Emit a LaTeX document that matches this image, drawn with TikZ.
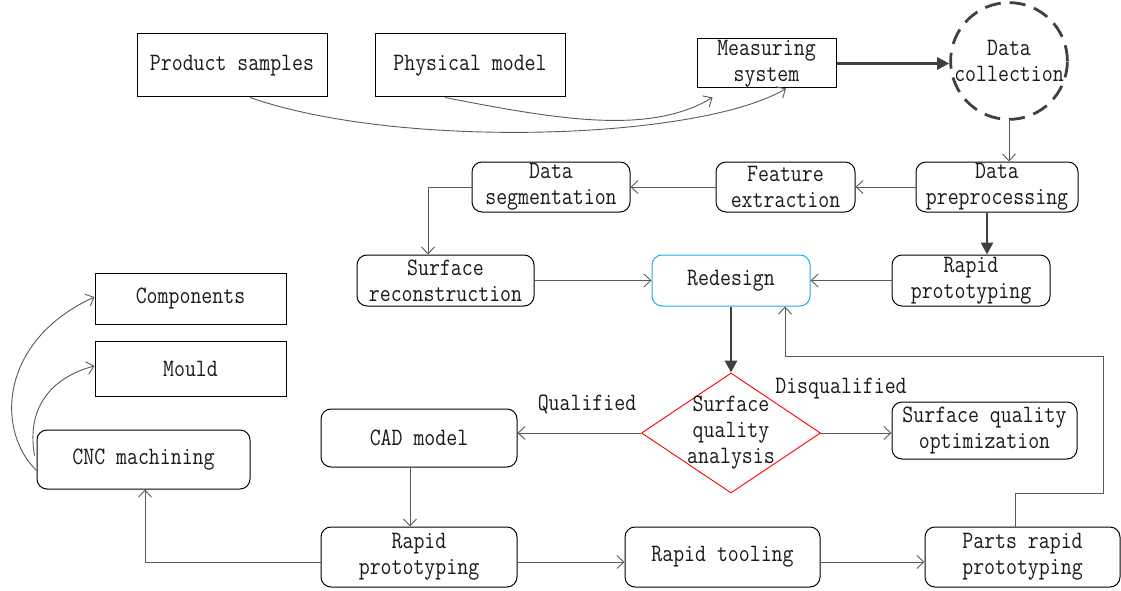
\documentclass[tikz,border=0pt]{standalone}
\usepackage{fontspec}
\newfontfamily\df[FakeStretch=0.85]{Latin Modern Mono}
\usetikzlibrary{arrows.meta,calc,shapes.geometric}
\definecolor{lnc}{HTML}{5A5A5A}
\definecolor{thk}{HTML}{404040}
\definecolor{cy}{RGB}{30,170,230}
\begin{document}
\begin{tikzpicture}[x=1pt,y=-1pt,
  every node/.style={font=\df\fontsize{25}{26}\selectfont, align=center, inner sep=0pt, text=black!90},
  sbox/.style={draw=black, line width=1pt, minimum width=#1},
  sbox/.default=190pt,
  rbox/.style={draw=black, line width=1pt, rounded corners=10pt},
  conn/.style={draw=lnc, line width=0.9pt, -{Straight Barb[length=7pt,width=13pt]}},
  thk/.style={draw=thk, line width=2.8pt, -{Triangle[length=12pt,width=12pt]}}
]
\useasboundingbox (0,0) rectangle (1121,591);
% top row
\node[sbox, minimum height=63pt] (ps) at (232,65.5) {Product samples};
\node[sbox, minimum height=63pt] (pm) at (470,65.5) {Physical model};
\node[sbox=139pt, minimum height=49pt] (ms) at (766.5,63.5) {Measuring\\system};
\node[circle, draw=thk, line width=2.8pt, dash pattern=on 16pt off 9pt, minimum size=116pt] (dc) at (1009,61) {Data\\collection};
% second row
\node[rbox, minimum width=162pt, minimum height=50pt] (dp) at (997,187) {Data\\preprocessing};
\node[rbox, minimum width=139pt, minimum height=50pt] (fe) at (785.5,187) {Feature\\extraction};
\node[rbox, minimum width=158pt, minimum height=50pt] (ds) at (551,187) {Data\\segmentation};
% third row
\node[rbox, minimum width=177pt, minimum height=51pt] (sr) at (445.5,280.5) {Surface\\reconstruction};
\node[rbox, draw=cy, minimum width=158pt, minimum height=51pt] (rd) at (731,280.5) {Redesign};
\node[rbox, minimum width=158pt, minimum height=51pt] (rp1) at (971,280.5) {Rapid\\prototyping};
% left
\node[sbox=191pt, minimum height=51pt] (co) at (190.5,298.5) {Components};
\node[sbox=191pt, minimum height=55pt] (mo) at (190.5,368.5) {Mould};
\node[rbox, minimum width=213pt, minimum height=59pt] (cnc) at (143.5,459.5) {CNC machining};
% diamond
\node[diamond, draw=red, line width=0.9pt, minimum width=179pt, minimum height=120pt] (dia) at (731,433) {};
\node at (dia.center) {Surface\\quality\\analysis};
\node[rbox, minimum width=196pt, minimum height=58pt] (cad) at (419,438) {CAD model};
\node[rbox, minimum width=185pt, minimum height=57pt] (sqo) at (984.5,430.5) {Surface quality\\optimization};
% bottom row
\node[rbox, minimum width=196pt, minimum height=60pt] (rp2) at (419,557) {Rapid\\prototyping};
\node[rbox, minimum width=195pt, minimum height=60pt] (rt) at (722.5,557) {Rapid tooling};
\node[rbox, minimum width=195pt, minimum height=60pt] (pr) at (1022.5,557) {Parts rapid\\prototyping};
% labels
\node (lq) at (587,404) {Qualified};
\node (ld) at (841,389) {Disqualified};
% connectors
\draw[conn] ($(ps.south)+(18,0)$) .. controls (400,150) and (700,140) .. ($(ms.south)+(19.5,0)$);
\draw[conn] ($(pm.south)+(-25,0)$) .. controls (560,120) and (650,135) .. ($(ms.south west)+(16,9)$);
\draw[thk] (ms.east) -- (ms.east -| dc.west);
\draw[conn] (dc.south) -- (dc.south |- dp.north);
\draw[conn] (dp.west) -- (fe.east);
\draw[conn] (fe.west) -- (ds.east);
\draw[conn] (ds.west) -| ($(sr.north)+(-17.5,0)$);
\draw[thk] ($(dp.south)+(-10,0)$) -- ($(rp1.north)+(16,0)$);
\draw[conn] (sr.east) -- (rd.west);
\draw[conn] (rp1.west) -- (rd.east);
\draw[thk] (rd.south) -- (dia.north);
\draw[conn] (dia.west) -- (dia.west -| cad.east);
\draw[conn] (dia.east) -- (dia.east -| sqo.west);
\draw[conn] ($(cad.south)+(-9,0)$) -- ($(rp2.north)+(-9,0)$);
\draw[conn] ($(rp2.east)+(0,5)$) -- ($(rt.west)+(0,5)$);
\draw[conn] ($(rt.east)+(0,5)$) -- ($(pr.west)+(0,5)$);
\draw[conn] ($(pr.north)+(-7,0)$) -- ++(0,-33) -| (1103,356) -| ($(rd.south)+(54,0)$);
\draw[conn] ($(rp2.west)+(0,5)$) -| ($(cnc.south)+(1.5,0)$);
\draw[conn] ($(cnc.south west)+(0,-19)$) .. controls (-5,430) and (0,340) .. ($(co.west)+(0,-1.5)$);
\draw[conn] ($(cnc.west)+(-2,-4)$) .. controls (25,400) and (60,375) .. ($(mo.west)+(0,-2.5)$);
\end{tikzpicture}
\end{document}
